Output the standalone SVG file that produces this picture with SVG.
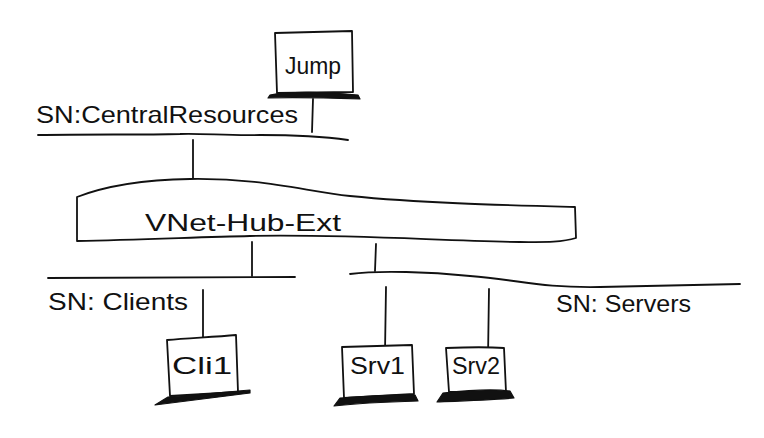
<svg xmlns="http://www.w3.org/2000/svg" width="764" height="438" viewBox="0 0 764 438">
<style>
.ln{fill:none;stroke:#111;stroke-width:1.8;stroke-linecap:round;stroke-linejoin:round}
.box{fill:#fff;stroke:#111;stroke-width:1.8;stroke-linejoin:round}
.base{fill:#111;stroke:#111;stroke-width:1.2;stroke-linejoin:round}
.t{font-family:"Liberation Sans","DejaVu Sans",sans-serif;fill:#111;font-size:24px}
</style>
<rect width="764" height="438" fill="#fff"/>
<g id="connectors">
<path class="ln" d="M313 99 L312 132"/>
<path class="ln" d="M38 135 C90 134 140 135 180 134 C200 133 230 136 260 135 C290 135 320 136 348 140"/>
<path class="ln" d="M193 140 L193 178"/>
<path class="ln" d="M252 242 L252 276"/>
<path class="ln" d="M376 244 L375 271"/>
<path class="ln" d="M48 278 C120 278 200 278 295 277"/>
<path class="ln" d="M350 274 C380 270 430 272 470 276 C520 280 540 288 600 287 C660 286 700 285 740 284"/>
<path class="ln" d="M203 290 L203 355"/>
<path class="ln" d="M386 287 L385 352"/>
<path class="ln" d="M489 289 L488 358"/>
</g>
<g id="sn-central">
<text class="t" x="36" y="123" textLength="262" lengthAdjust="spacingAndGlyphs">SN:CentralResources</text>
</g>
<g id="jump">
<path class="box" d="M275 33 L352 31 L353 92 L277 93 Z"/>
<path class="base" d="M270 95 C285 92 320 91 358 95 L360 99 C330 98 300 97 268 98 Z"/>
<text class="t" x="285" y="74" font-size="26" textLength="56" lengthAdjust="spacingAndGlyphs">Jump</text>
</g>
<g id="vnet">
<path class="box" d="M77 197 C95 190 130 180 190 179 C260 178 300 190 350 196 C420 203 500 205 575 207 L576 238 C560 243 540 242 520 242 C440 241 350 234 250 236 C200 237 140 240 77 241 Z"/>
<text class="t" x="145" y="231" font-size="27" textLength="196" lengthAdjust="spacingAndGlyphs">VNet-Hub-Ext</text>
</g>
<g id="sn-clients">
<text class="t" x="48" y="310" textLength="140" lengthAdjust="spacingAndGlyphs">SN: Clients</text>
</g>
<g id="sn-servers">
<text class="t" x="556" y="312" textLength="135" lengthAdjust="spacingAndGlyphs">SN: Servers</text>
</g>
<g id="cli1">
<path class="box" d="M167 340 C190 338 215 337 236 335 L238 392 L170 396 Z"/>
<path class="base" d="M168 397 C195 395 225 392 250 390 L250 393 C220 397 185 401 155 405 Z"/>
<text class="t" x="172" y="374" font-size="27" textLength="60" lengthAdjust="spacingAndGlyphs">Cli1</text>
</g>
<g id="srv1">
<path class="box" d="M342 347 L412 345 L414 394 L344 398 Z"/>
<path class="base" d="M340 398 C370 396 395 394 415 395 L418 401 C385 402 360 403 334 406 Z"/>
<text class="t" x="350" y="374" font-size="25" textLength="55" lengthAdjust="spacingAndGlyphs">Srv1</text>
</g>
<g id="srv2">
<path class="box" d="M446 348 C470 347 490 347 504 348 L506 392 L449 392 Z"/>
<path class="base" d="M443 393 C470 390 495 389 510 391 L514 398 C490 400 462 401 437 402 Z"/>
<text class="t" x="452" y="374" font-size="25" textLength="48" lengthAdjust="spacingAndGlyphs">Srv2</text>
</g>
</svg>
